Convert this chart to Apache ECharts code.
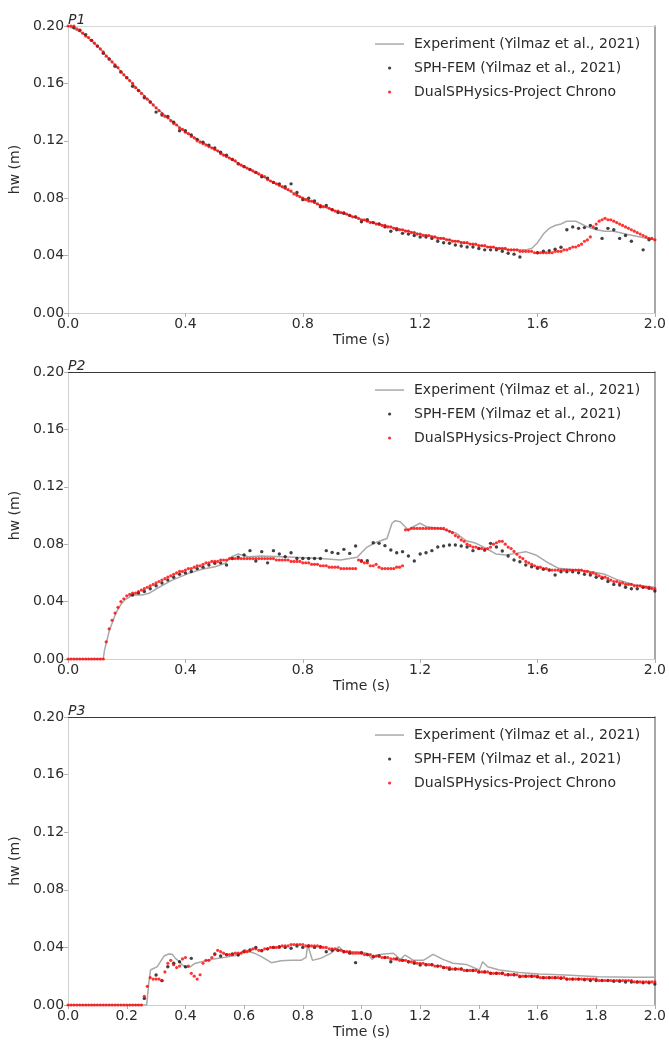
<!DOCTYPE html>
<html><head><meta charset="utf-8">
<script src="https://cdn.jsdelivr.net/npm/echarts@6/dist/echarts.min.js"></script>
<style>html,body{margin:0;padding:0;background:#fff}#c{width:669px;height:1041px}</style>
</head><body><div id="c"></div>
<script>
// ---------- names ----------
const panelNames = ['P1', 'P2', 'P3'];
const seriesNames = ['Experiment (Yilmaz et al., 2021)', 'SPH-FEM (Yilmaz et al., 2021)', 'DualSPHysics-Project Chrono'];
const xIntervals = [0.4, 0.4, 0.2];
const yInterval = 0.04;

// ---------- P1 ----------
const expT1 = [0,0.05,0.1,0.2,0.3,0.4,0.5,0.6,0.7,0.8,0.9,1.0,1.1,1.2,1.3,1.4,1.5,1.56,1.58,1.60,1.62,1.64,1.66,1.68,1.70,1.73,1.75,1.77,1.80,1.83,1.86,1.90,1.95,2.0];
const expV1 = [0.200,0.195,0.186,0.164,0.143,0.126,0.114,0.102,0.091,0.080,0.072,0.065,0.060,0.055,0.051,0.047,0.044,0.044,0.045,0.049,0.055,0.059,0.061,0.062,0.064,0.064,0.062,0.060,0.058,0.057,0.057,0.055,0.053,0.051];
const sphT1 = [0.02,0.04,0.06,0.08,0.10,0.12,0.14,0.16,0.18,0.20,0.22,0.24,0.26,0.28,0.30,0.32,0.34,0.36,0.38,0.40,0.42,0.44,0.46,0.48,0.50,0.52,0.54,0.56,0.58,0.60,0.62,0.64,0.66,0.68,0.70,0.72,0.74,0.76,0.78,0.80,0.82,0.84,0.86,0.88,0.90,0.92,0.94,0.96,0.98,1.00,1.02,1.04,1.06,1.08,1.10,1.12,1.14,1.16,1.18,1.20,1.22,1.24,1.26,1.28,1.30,1.32,1.34,1.36,1.38,1.40,1.42,1.44,1.46,1.48,1.50,1.52,1.54,1.60,1.62,1.64,1.66,1.68,1.70,1.72,1.74,1.76,1.78,1.80,1.82,1.84,1.86,1.88,1.90,1.92,1.96,1.98];
const sphV1 = [0.199,0.197,0.194,0.190,0.186,0.181,0.177,0.172,0.168,0.164,0.158,0.155,0.150,0.147,0.140,0.138,0.137,0.133,0.127,0.127,0.124,0.121,0.119,0.117,0.115,0.112,0.110,0.107,0.104,0.102,0.100,0.098,0.095,0.094,0.091,0.090,0.088,0.090,0.084,0.079,0.080,0.078,0.074,0.075,0.072,0.070,0.0695,0.068,0.067,0.0636,0.065,0.063,0.062,0.060,0.057,0.058,0.0555,0.055,0.054,0.053,0.053,0.052,0.050,0.049,0.0486,0.0474,0.0467,0.046,0.046,0.045,0.044,0.044,0.044,0.043,0.0416,0.041,0.039,0.042,0.043,0.0434,0.0444,0.0458,0.058,0.060,0.059,0.0595,0.061,0.059,0.052,0.059,0.058,0.052,0.054,0.050,0.044,0.051];
// DualSPHysics values every 0.01 s from 0.00 to 2.00
const dualV1 = [
0.200,0.200,0.200,0.198,0.197,0.195,0.193,0.192,0.190,0.188,
0.186,0.184,0.182,0.179,0.177,0.175,0.173,0.171,0.168,0.166,
0.164,0.162,0.160,0.157,0.155,0.153,0.151,0.149,0.147,0.145,
0.143,0.141,0.139,0.137,0.136,0.134,0.132,0.131,0.129,0.128,
0.126,0.125,0.123,0.122,0.120,0.119,0.118,0.117,0.116,0.115,
0.114,0.113,0.111,0.110,0.109,0.108,0.107,0.106,0.104,0.103,
0.102,0.101,0.100,0.099,0.098,0.097,0.096,0.095,0.093,0.092,
0.091,0.090,0.089,0.088,0.087,0.086,0.085,0.083,0.082,0.081,
0.080,0.079,0.078,0.078,0.077,0.076,0.075,0.074,0.074,0.073,
0.072,0.071,0.071,0.070,0.070,0.069,0.068,0.067,0.067,0.066,
0.065,0.065,0.064,0.063,0.063,0.062,0.062,0.061,0.061,0.060,
0.060,0.059,0.059,0.058,0.058,0.057,0.057,0.056,0.056,0.055,
0.055,0.054,0.054,0.054,0.053,0.053,0.052,0.052,0.052,0.051,
0.051,0.050,0.050,0.050,0.049,0.049,0.049,0.048,0.048,0.048,
0.047,0.047,0.047,0.046,0.046,0.046,0.045,0.045,0.045,0.045,
0.044,0.044,0.044,0.044,0.043,0.043,0.043,0.043,0.043,0.042,
0.042,0.042,0.042,0.042,0.042,0.042,0.043,0.043,0.043,0.044,
0.044,0.045,0.046,0.046,0.047,0.048,0.050,0.051,0.053,0.060,
0.062,0.064,0.065,0.066,0.065,0.065,0.064,0.063,0.062,0.061,
0.060,0.059,0.058,0.057,0.056,0.055,0.054,0.053,0.052,0.052,
0.051];

// ---------- P2 ----------
const expT2 = [0,0.12,0.124,0.141,0.163,0.18,0.192,0.22,0.253,0.276,0.31,0.355,0.411,0.456,0.501,0.535,0.557,0.58,0.614,0.659,0.726,0.771,0.861,0.929,0.985,1.019,1.047,1.087,1.104,1.115,1.132,1.16,1.177,1.199,1.222,1.267,1.323,1.357,1.391,1.425,1.458,1.492,1.526,1.56,1.594,1.639,1.672,1.729,1.785,1.83,1.875,1.931,2.0];
const expV2 = [0,0,0.006,0.020,0.032,0.038,0.041,0.0446,0.0446,0.0458,0.050,0.055,0.0597,0.0625,0.0643,0.0667,0.0713,0.0732,0.0713,0.0718,0.0713,0.0709,0.070,0.069,0.0709,0.078,0.081,0.084,0.0946,0.0964,0.0957,0.0899,0.0922,0.0946,0.0922,0.091,0.0876,0.0824,0.0806,0.077,0.0732,0.0725,0.0736,0.0748,0.0725,0.0667,0.0632,0.062,0.0608,0.059,0.055,0.0516,0.050];
const sphT2 = [0.22,0.24,0.26,0.28,0.30,0.32,0.34,0.36,0.38,0.40,0.42,0.44,0.46,0.48,0.50,0.52,0.54,0.56,0.58,0.60,0.62,0.64,0.66,0.68,0.70,0.72,0.74,0.76,0.78,0.80,0.82,0.84,0.86,0.88,0.90,0.92,0.94,0.96,0.98,1.00,1.02,1.04,1.06,1.08,1.10,1.12,1.14,1.16,1.18,1.20,1.22,1.24,1.26,1.28,1.30,1.32,1.34,1.36,1.38,1.40,1.42,1.44,1.46,1.48,1.50,1.52,1.54,1.56,1.58,1.60,1.62,1.64,1.66,1.68,1.70,1.72,1.74,1.76,1.78,1.80,1.82,1.84,1.86,1.88,1.90,1.92,1.94,1.96,1.98,2.00];
const sphV2 = [0.0446,0.046,0.047,0.049,0.051,0.053,0.055,0.057,0.059,0.060,0.061,0.063,0.064,0.0655,0.0667,0.067,0.0655,0.070,0.071,0.0725,0.0755,0.0683,0.0748,0.067,0.0755,0.0732,0.0713,0.074,0.070,0.070,0.070,0.070,0.070,0.0755,0.0743,0.0736,0.0764,0.0736,0.0787,0.0685,0.0685,0.081,0.0806,0.079,0.076,0.074,0.0748,0.0718,0.0683,0.0732,0.074,0.0755,0.078,0.0787,0.0794,0.0794,0.0787,0.078,0.0755,0.077,0.076,0.0806,0.078,0.0753,0.0718,0.069,0.0678,0.0655,0.0643,0.0632,0.0625,0.062,0.0585,0.0608,0.0608,0.0608,0.0601,0.059,0.0585,0.057,0.0562,0.054,0.052,0.0516,0.050,0.049,0.049,0.050,0.0493,0.0474];
const dualV2 = [
0,0,0,0,0,0,0,0,0,0,
0,0,0,0.012,0.021,0.027,0.032,0.036,0.040,0.042,
0.044,0.045,0.046,0.046,0.047,0.048,0.049,0.050,0.051,0.052,
0.053,0.054,0.055,0.056,0.057,0.058,0.059,0.060,0.061,0.061,
0.062,0.063,0.063,0.064,0.065,0.065,0.066,0.067,0.067,0.068,
0.068,0.068,0.069,0.069,0.069,0.070,0.070,0.070,0.070,0.070,
0.070,0.070,0.070,0.070,0.070,0.070,0.070,0.070,0.070,0.070,
0.070,0.069,0.069,0.069,0.069,0.069,0.068,0.068,0.068,0.068,
0.067,0.067,0.067,0.066,0.066,0.066,0.065,0.065,0.065,0.064,
0.064,0.064,0.064,0.063,0.063,0.063,0.063,0.063,0.063,0.069,
0.068,0.067,0.067,0.065,0.065,0.066,0.064,0.063,0.063,0.063,
0.063,0.063,0.064,0.064,0.065,0.090,0.090,0.091,0.091,0.091,
0.091,0.091,0.091,0.091,0.091,0.091,0.091,0.091,0.091,0.090,
0.089,0.088,0.086,0.085,0.083,0.082,0.080,0.079,0.078,0.078,
0.077,0.077,0.076,0.077,0.078,0.080,0.081,0.082,0.082,0.080,
0.078,0.077,0.075,0.073,0.071,0.070,0.068,0.067,0.066,0.065,
0.064,0.064,0.063,0.063,0.062,0.062,0.062,0.062,0.062,0.062,
0.062,0.062,0.062,0.062,0.062,0.062,0.061,0.061,0.060,0.060,
0.059,0.058,0.057,0.057,0.056,0.055,0.054,0.054,0.053,0.053,
0.052,0.052,0.052,0.051,0.051,0.051,0.050,0.050,0.050,0.049,
0.049];

// ---------- P3 ----------
const expT3 = [0,0.268,0.275,0.281,0.287,0.304,0.327,0.343,0.355,0.366,0.38,0.389,0.403,0.417,0.434,0.456,0.49,0.535,0.58,0.602,0.614,0.636,0.659,0.693,0.726,0.76,0.794,0.811,0.817,0.833,0.861,0.895,0.923,0.94,0.985,1.019,1.036,1.053,1.075,1.109,1.132,1.149,1.177,1.211,1.244,1.278,1.312,1.357,1.402,1.413,1.43,1.47,1.537,1.605,1.695,1.807,1.92,2.0];
const expV3 = [0,0,0.015,0.0243,0.0248,0.0266,0.034,0.0354,0.0352,0.0324,0.030,0.0278,0.026,0.0266,0.029,0.030,0.0317,0.0331,0.0347,0.0387,0.037,0.0359,0.0336,0.0294,0.0308,0.031,0.031,0.0331,0.0417,0.031,0.0324,0.0359,0.0405,0.037,0.037,0.0359,0.0317,0.0347,0.0354,0.0359,0.0317,0.0347,0.031,0.031,0.0352,0.0317,0.029,0.0282,0.0243,0.030,0.0266,0.0243,0.0225,0.0215,0.0208,0.0197,0.0192,0.0192];
const sphT3 = [0.26,0.30,0.32,0.34,0.36,0.38,0.40,0.42,0.50,0.52,0.54,0.56,0.58,0.60,0.62,0.64,0.66,0.68,0.70,0.72,0.74,0.76,0.78,0.80,0.82,0.84,0.86,0.88,0.90,0.92,0.94,0.96,0.98,1.00,1.02,1.04,1.06,1.08,1.10,1.12,1.14,1.16,1.18,1.20,1.22,1.24,1.26,1.28,1.30,1.32,1.34,1.36,1.38,1.40,1.42,1.44,1.46,1.48,1.50,1.52,1.54,1.56,1.58,1.60,1.62,1.64,1.66,1.68,1.70,1.72,1.74,1.76,1.78,1.80,1.82,1.84,1.86,1.88,1.90,1.92,1.94,1.96,1.98,2.00];
const sphV3 = [0.0046,0.0208,0.0169,0.0266,0.029,0.030,0.0266,0.0324,0.0355,0.034,0.035,0.0355,0.0347,0.037,0.0382,0.040,0.0377,0.039,0.040,0.0405,0.040,0.0394,0.041,0.040,0.041,0.040,0.0405,0.037,0.038,0.038,0.037,0.036,0.0294,0.0363,0.035,0.0336,0.034,0.033,0.030,0.032,0.031,0.030,0.029,0.0278,0.028,0.028,0.027,0.026,0.0248,0.025,0.025,0.024,0.024,0.023,0.023,0.022,0.022,0.022,0.021,0.021,0.0197,0.020,0.020,0.0195,0.019,0.019,0.019,0.0185,0.018,0.018,0.018,0.0175,0.017,0.017,0.017,0.017,0.0165,0.0165,0.016,0.016,0.016,0.0155,0.0155,0.0145];
const dualV3 = [
0,0,0,0,0,0,0,0,0,0,
0,0,0,0,0,0,0,0,0,0,
0,0,0,0,0,0,0.006,0.013,0.019,0.018,
0.018,0.018,0.017,0.023,0.029,0.031,0.028,0.026,0.027,0.032,
0.033,0.027,0.022,0.020,0.018,0.021,0.029,0.031,0.031,0.033,
0.035,0.038,0.037,0.036,0.035,0.035,0.035,0.036,0.036,0.036,
0.037,0.037,0.038,0.039,0.039,0.038,0.038,0.039,0.039,0.040,
0.040,0.040,0.040,0.041,0.041,0.041,0.042,0.042,0.042,0.042,
0.042,0.041,0.041,0.041,0.041,0.041,0.040,0.040,0.040,0.039,
0.039,0.039,0.038,0.038,0.037,0.037,0.037,0.036,0.036,0.036,
0.036,0.035,0.035,0.035,0.034,0.034,0.034,0.033,0.033,0.033,
0.032,0.032,0.032,0.031,0.031,0.031,0.030,0.030,0.030,0.029,
0.029,0.029,0.028,0.028,0.028,0.027,0.027,0.027,0.026,0.026,
0.026,0.025,0.025,0.025,0.025,0.024,0.024,0.024,0.024,0.024,
0.023,0.023,0.023,0.023,0.022,0.022,0.022,0.022,0.022,0.021,
0.021,0.021,0.021,0.021,0.020,0.020,0.020,0.020,0.020,0.020,
0.020,0.019,0.019,0.019,0.019,0.019,0.019,0.019,0.019,0.019,
0.018,0.018,0.018,0.018,0.018,0.018,0.018,0.018,0.018,0.018,
0.018,0.017,0.017,0.017,0.017,0.017,0.017,0.017,0.017,0.017,
0.017,0.017,0.017,0.016,0.016,0.016,0.016,0.016,0.016,0.016,
0.016];

// ---------- build ----------
const panels = [
  {exp: [expT1, expV1], sph: [sphT1, sphV1], dual: dualV1},
  {exp: [expT2, expV2], sph: [sphT2, sphV2], dual: dualV2},
  {exp: [expT3, expV3], sph: [sphT3, sphV3], dual: dualV3}
];
const pair = (ts, vs) => ts.map((t, i) => [t, vs[i]]);
const byStep = vs => vs.map((v, i) => [i / 100, v]);

const FONT = 'DejaVu Sans';
const FS = 14;
const TXT = '#2b2b2b';
const gridTops = [26, 372, 717];
const gridHeights = [287, 287, 288];
const topSpine = ['#d8d8d8', '#3a3a3a', '#3a3a3a'];

const ICON_LINE = 'path://M0,0M34,12M0,5.3h29v1.5h-29z';
const ICON_DOT = 'path://M0,0M34,12M13,6a1.6,1.6 0 1,0 3.2,0a1.6,1.6 0 1,0 -3.2,0';

const grid = [], xAxis = [], yAxis = [], series = [], legend = [], title = [];
panels.forEach((p, k) => {
  grid.push({left: 65, width: 592, top: gridTops[k], height: gridHeights[k], containLabel: false});
  title.push({text: panelNames[k], left: 63, top: gridTops[k] - 18,
    textStyle: {fontFamily: FONT, fontSize: 14, fontStyle: 'italic', fontWeight: 'normal', color: TXT}});
  xAxis.push({type: 'value', gridIndex: k, min: 0, max: 2, interval: xIntervals[k], position: 'bottom',
    axisLine: {onZero: false, lineStyle: {color: '#cfcfcf', width: 1}},
    axisTick: {show: true, length: 4, lineStyle: {color: '#b0b0b0'}},
    axisLabel: {fontFamily: FONT, fontSize: FS, color: TXT, margin: 4, formatter: v => v.toFixed(1)},
    splitLine: {show: false},
    name: 'Time (s)', nameLocation: 'middle', nameGap: 20,
    nameTextStyle: {fontFamily: FONT, fontSize: FS, color: TXT}});
  xAxis.push({type: 'value', gridIndex: k, min: 0, max: 2, position: 'top',
    axisLine: {onZero: false, lineStyle: {color: topSpine[k], width: 1.2}},
    axisTick: {show: false}, axisLabel: {show: false}, splitLine: {show: false}});
  yAxis.push({type: 'value', gridIndex: k, min: 0, max: 0.2, interval: yInterval, position: 'left',
    axisLine: {show: true, onZero: false, lineStyle: {color: '#d0d0d0', width: 1}},
    axisTick: {show: true, length: 4, lineStyle: {color: '#b0b0b0'}},
    axisLabel: {fontFamily: FONT, fontSize: FS, color: TXT, margin: 4, formatter: v => v.toFixed(2)},
    splitLine: {show: false},
    name: 'hw (m)', nameLocation: 'middle', nameGap: 35,
    nameTextStyle: {fontFamily: FONT, fontSize: FS, color: TXT}});
  yAxis.push({type: 'value', gridIndex: k, min: 0, max: 0.2, position: 'right',
    axisLine: {show: true, onZero: false, lineStyle: {color: '#8a8a8a', width: 1.5}},
    axisTick: {show: false}, axisLabel: {show: false}, splitLine: {show: false}});

  series.push({name: seriesNames[0], type: 'line', xAxisIndex: 2 * k, yAxisIndex: 2 * k,
    data: pair(p.exp[0], p.exp[1]), showSymbol: false, symbol: 'none',
    lineStyle: {color: '#a9a9a9', width: 1.5}, itemStyle: {color: '#a9a9a9'}, z: 2});
  series.push({name: seriesNames[1], type: 'scatter', xAxisIndex: 2 * k, yAxisIndex: 2 * k,
    data: pair(p.sph[0], p.sph[1]), symbol: 'circle', symbolSize: 3.4,
    itemStyle: {color: '#111111'}, z: 3});
  series.push({name: seriesNames[2], type: 'scatter', xAxisIndex: 2 * k, yAxisIndex: 2 * k,
    data: byStep(p.dual), symbol: 'circle', symbolSize: 3.2,
    itemStyle: {color: '#ff0000'}, z: 4});

  legend.push({orient: 'vertical', left: 375, top: gridTops[k] + 11, padding: 0,
    itemWidth: 34, itemHeight: 12, itemGap: 10, selectedMode: false,
    textStyle: {fontFamily: FONT, fontSize: FS, color: TXT},
    data: [
      {name: seriesNames[0], icon: ICON_LINE, itemStyle: {color: '#a9a9a9', borderWidth: 0}},
      {name: seriesNames[1], icon: ICON_DOT, itemStyle: {color: '#111111', borderWidth: 0}},
      {name: seriesNames[2], icon: ICON_DOT, itemStyle: {color: '#ff0000', borderWidth: 0}}
    ]});
});

const chart = echarts.init(document.getElementById('c'), null, {renderer: 'canvas'});
chart.setOption({animation: false, backgroundColor: '#ffffff', textStyle: {fontFamily: FONT},
  title, grid, xAxis, yAxis, series, legend});
</script></body></html>
